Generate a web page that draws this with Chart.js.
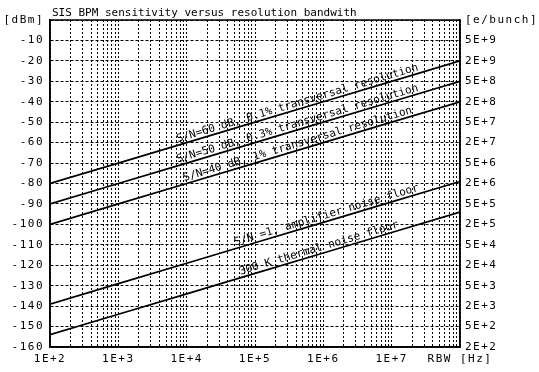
<!DOCTYPE html>
<html><head><meta charset="utf-8">
<script src="https://cdn.jsdelivr.net/npm/chart.js@4"></script>
<style>html,body{margin:0;padding:0;background:#fff}#wrap{width:539px;height:372px}</style>
</head><body><div id="wrap"><canvas id="c" width="539" height="372"></canvas></div>
<script>
// ---- data ----
const rbwHz = [1e2, 1e3, 1e4, 1e5, 1e6, 1e7, 1e8];
const sn60 = [-80, -70, -60, -50, -40, -30, -20];
const sn50 = [-90, -80, -70, -60, -50, -40, -30];
const sn40 = [-100, -90, -80, -70, -60, -50, -40];
const ampFloor = [-139, -129, -119, -109, -99, -89, -79];
const thermalFloor = [-154, -144, -134, -124, -114, -104, -94];
const seriesLabels = [
  'S/N=60 dB, 0.1% transversal resolution',
  'S/N=50 dB, 0.3% transversal resolution',
  'S/N=40 dB, 1% transversal resolution',
  'S/N =1, amplifier noise floor',
  '300 K thermal noise floor'
];
const titleText = 'SIS BPM sensitivity versus resolution bandwith';
const xDecades = [2, 3, 4, 5, 6, 7, 8];
const xTickLabels = ['1E+2', '1E+3', '1E+4', '1E+5', '1E+6', '1E+7', 'RBW [Hz]'];
const dbmTicks = [-160, -150, -140, -130, -120, -110, -100, -90, -80, -70, -60, -50, -40, -30, -20, -10, 0];
const dbmTickLabels = ['-160', '-150', '-140', '-130', '-120', '-110', '-100', '-90', '-80', '-70', '-60', '-50', '-40', '-30', '-20', '-10', '[dBm]'];
const bunchTickLabels = ['2E+2', '5E+2', '2E+3', '5E+3', '2E+4', '5E+4', '2E+5', '5E+5', '2E+6', '5E+6', '2E+7', '5E+7', '2E+8', '5E+8', '2E+9', '5E+9', '[e/bunch]'];
// where each curve label starts (in Hz along its curve)
const labelStartHz = [7.6e3, 7.6e3, 9.5e3, 5.3e4, 6.3e4];

const allSeries = [sn60, sn50, sn40, ampFloor, thermalFloor];
const FONT = "'DejaVu Sans Mono', 'Liberation Mono', monospace";

const datasets = allSeries.map((vals, i) => ({
  label: seriesLabels[i],
  data: rbwHz.map((x, j) => ({x: x, y: vals[j]})),
  borderColor: '#000',
  borderWidth: 1.7,
  pointRadius: 0,
  tension: 0,
  fill: false
}));

const extrasPlugin = {
  id: 'extras',
  beforeDraw(chart) {
    chart.ctx.letterSpacing = '1.5px';
  },
  beforeDatasetsDraw(chart) {
    chart.ctx.letterSpacing = '0px';
  },
  afterDatasetsDraw(chart) {
    const ctx = chart.ctx, a = chart.chartArea;
    const xs = chart.scales.x, ys = chart.scales.y;
    ctx.save();
    ctx.letterSpacing = '0px';
    ctx.setLineDash([]);
    // frame
    ctx.strokeStyle = '#000';
    ctx.lineWidth = 1.5;
    ctx.strokeRect(a.left, a.top, a.right - a.left, a.bottom - a.top);
    // title
    ctx.fillStyle = '#000';
    ctx.font = '11px ' + FONT;
    ctx.textAlign = 'left';
    ctx.textBaseline = 'alphabetic';
    ctx.fillText(titleText, 52, 16);
    // curve labels
    allSeries.forEach((vals, i) => {
      const x0 = xs.getPixelForValue(rbwHz[0]), y0 = ys.getPixelForValue(vals[0]);
      const n = rbwHz.length - 1;
      const x1 = xs.getPixelForValue(rbwHz[n]), y1 = ys.getPixelForValue(vals[n]);
      const slope = (y1 - y0) / (x1 - x0);
      const px = xs.getPixelForValue(labelStartHz[i]);
      const py = y0 + (px - x0) * slope;
      ctx.save();
      ctx.translate(px, py);
      ctx.rotate(Math.atan(slope));
      ctx.fillText(seriesLabels[i], 0, -3);
      ctx.restore();
    });
    ctx.restore();
  }
};

new Chart(document.getElementById('c'), {
  type: 'line',
  data: {datasets},
  plugins: [extrasPlugin],
  options: {
    responsive: false,
    devicePixelRatio: 1,
    animation: false,
    layout: {padding: {top: 20, left: 0, right: 0, bottom: 0}},
    plugins: {legend: {display: false}, title: {display: false}, tooltip: {enabled: false}},
    scales: {
      x: {
        type: 'logarithmic',
        min: 1e2, max: 1e8,
        afterFit(s) { s.height = 25; },
        afterBuildTicks(s) {
          const t = [];
          xDecades.forEach(e => {
            for (let m = 1; m <= 9; m++) {
              if (e === 8 && m > 1) break;
              t.push({value: m * Math.pow(10, e)});
            }
          });
          s.ticks = t;
        },
        ticks: {
          autoSkip: false, maxRotation: 0, minRotation: 0, padding: 6,
          color: '#000', font: {family: FONT, size: 11},
          callback(v) {
            const e = Math.round(Math.log10(v));
            if (Math.abs(v - Math.pow(10, e)) > 1e-6 * v) return '';
            const k = xDecades.indexOf(e);
            return k >= 0 ? xTickLabels[k] : '';
          }
        },
        grid: {color: '#000', lineWidth: 1, drawTicks: false, tickLength: 0},
        border: {display: true, color: '#000', width: 1.5, dash: [2, 2]}
      },
      y: {
        type: 'linear', position: 'left',
        min: -160, max: 0,
        afterFit(s) { s.width = 50; },
        afterBuildTicks(s) { s.ticks = dbmTicks.map(v => ({value: v})); },
        ticks: {
          padding: 6, color: '#000', font: {family: FONT, size: 11},
          callback(v) { const k = dbmTicks.indexOf(v); return k >= 0 ? dbmTickLabels[k] : ''; }
        },
        grid: {color: '#000', lineWidth: 1, drawTicks: false, tickLength: 0},
        border: {display: true, color: '#000', width: 1.5, dash: [3, 2]}
      },
      y2: {
        type: 'linear', position: 'right',
        min: -160, max: 0,
        afterFit(s) { s.width = 79; },
        afterBuildTicks(s) { s.ticks = dbmTicks.map(v => ({value: v})); },
        ticks: {
          padding: 5, color: '#000', font: {family: FONT, size: 11},
          callback(v) { const k = dbmTicks.indexOf(v); return k >= 0 ? bunchTickLabels[k] : ''; }
        },
        grid: {display: false, drawTicks: false, tickLength: 0},
        border: {display: true, color: '#000', width: 1.5}
      }
    }
  }
});
</script></body></html>
